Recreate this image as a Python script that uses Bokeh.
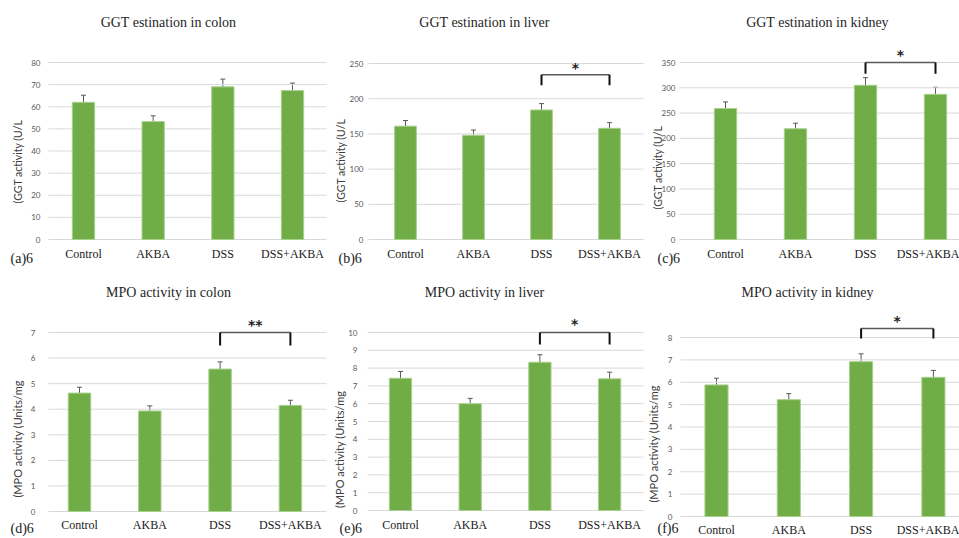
import math
from bokeh.plotting import figure
from bokeh.models import Range1d, FixedTicker, Label, Whisker, TeeHead, ColumnDataSource
from bokeh.layouts import row, column
from bokeh.embed import file_html
from bokeh.resources import INLINE
from bokeh.core.properties import value

# ---------------- data ----------------
categories = ["Control", "AKBA", "DSS", "DSS+AKBA"]

ggt_colon = [62.0, 53.3, 69.0, 67.3]
ggt_colon_err = [3.2, 2.6, 3.5, 3.4]
ggt_liver = [161, 148, 184, 158]
ggt_liver_err = [8, 7.5, 9, 8]
ggt_kidney = [259, 219, 305, 287]
ggt_kidney_err = [13, 11, 15, 14]
mpo_colon = [4.63, 3.93, 5.57, 4.15]
mpo_colon_err = [0.23, 0.20, 0.28, 0.20]
mpo_liver = [7.43, 6.0, 8.33, 7.4]
mpo_liver_err = [0.38, 0.30, 0.42, 0.37]
mpo_kidney = [5.88, 5.22, 6.92, 6.22]
mpo_kidney_err = [0.30, 0.27, 0.35, 0.31]

ticks_ggt_colon = [0, 10, 20, 30, 40, 50, 60, 70, 80]
ticks_ggt_liver = [0, 50, 100, 150, 200, 250]
ticks_ggt_kidney = [0, 50, 100, 150, 200, 250, 300, 350]
ticks_mpo_colon = [0, 1, 2, 3, 4, 5, 6, 7]
ticks_mpo_liver = [0, 1, 2, 3, 4, 5, 6, 7, 8, 9, 10]
ticks_mpo_kidney = [0, 1, 2, 3, 4, 5, 6, 7, 8]

titles = ["GGT estination in colon", "GGT estination in liver", "GGT estination in kidney",
          "MPO activity in colon", "MPO activity in liver", "MPO activity in kidney"]
ylabels = ["(GGT activity (U/L", "(GGT activity (U/L", "(GGT activity (U/L",
           "(MPO  activity (Units/mg", "(MPO  activity (Units/mg", "(MPO  activity (Units/mg"]
tags = ["(a)6", "(b)6", "(c)6", "(d)6", "(e)6", "(f)6"]

# significance brackets: (group from, group to, bracket top, leg bottom, stars, star level)
brackets = [
    None,
    (2, 3, 234, 219, "*", 244),
    (2, 3, 350, 328, "*", 364),
    (2, 3, 7.0, 6.49, "**", 7.3),
    (2, 3, 10.0, 9.33, "*", 10.45),
    (2, 3, 8.4, 7.95, "*", 8.75),
]

BAR = "#70AD47"
BAR_EDGE = "#A9D18E"
GRID = "#D9D9D9"
SERIF = "Liberation Serif"
SANS = "Lato"


def canvas_label(text, x, y, size, font, align="center", color="#262626", angle=0.0):
    kw = dict(text=text, text_align=align, text_baseline="middle", angle=angle,
              text_font=font, text_font_size=size, text_color=color)
    try:
        return Label(x=x, y=y, x_units="canvas", y_units="canvas", **kw)
    except Exception:
        return Label(x=x, y=y, x_units="screen", y_units="screen", **kw)


def panel(vals, errs, ticks, title, ylabel, tag, br, L):
    w, h = L["w"], L["h"]
    c0, s, y0, k = L["c0"], L["s"], L["y0"], L["k"]
    # layout geometry (pixels -> axis units), frame = whole canvas
    px2x = lambda px: (px - c0) / s
    xs, xe = px2x(0), px2x(w)
    ys, ye = (y0 - h) * k, y0 * k
    gx0, gx1 = px2x(L["gx"][0]), px2x(L["gx"][1])

    p = figure(width=w, height=h, output_backend="svg", toolbar_location=None,
               x_range=Range1d(xs, xe), y_range=Range1d(ys, ye),
               min_border_left=0, min_border_right=0,
               min_border_top=0, min_border_bottom=0,
               background_fill_color="white", border_fill_color="white")
    p.outline_line_color = None
    p.xgrid.visible = False
    p.ygrid.visible = False

    # horizontal gridlines at the tick values
    p.segment(x0=[gx0] * len(ticks), x1=[gx1] * len(ticks), y0=ticks, y1=ticks,
              line_color=GRID, line_width=1)

    idx = list(range(len(categories)))
    src = ColumnDataSource(dict(x=idx, top=vals,
                                up=[v + e for v, e in zip(vals, errs)],
                                lo=[v - e for v, e in zip(vals, errs)]))
    p.vbar(x="x", top="top", bottom=0, width=0.32, source=src, fill_color=BAR,
           line_color=BAR_EDGE, line_width=1)
    wh = Whisker(base="x", upper="up", lower="lo", source=src,
                 line_color="#595959", line_width=1,
                 upper_head=TeeHead(size=5, line_color="#595959", line_width=1),
                 lower_head=TeeHead(size=5, line_color="#595959", line_width=1))
    p.add_layout(wh)

    if br is not None:
        i1, i2, top, leg, stars, sy = br
        p.segment(x0=[i1], y0=[top], x1=[i2], y1=[top], line_color="#595959", line_width=1.5)
        p.segment(x0=[i1, i2], y0=[leg, leg], x1=[i1, i2], y1=[top, top],
                  line_color="#111111", line_width=2)
        p.text(x=[(i1 + i2) / 2], y=[sy], text=[stars], text_align="center",
               text_baseline="middle", text_font=value("DejaVu Sans"),
               text_font_style="bold", text_font_size="14px", text_color="#222222")

    # x axis (categories) fixed on the zero line
    xa = p.xaxis[0]
    xa.fixed_location = 0
    xa.ticker = FixedTicker(ticks=idx)
    xa.major_label_overrides = {i: c for i, c in zip(idx, categories)}
    xa.major_label_text_font = SERIF
    xa.major_label_text_font_size = "12px"
    xa.major_label_text_color = "#1a1a1a"
    xa.major_label_standoff = L["xstd"]
    xa.axis_line_color = None
    xa.major_tick_line_color = None
    xa.major_tick_out = 0
    xa.major_tick_in = 0
    xa.minor_tick_line_color = None

    # y axis fixed at the left end of the gridlines
    ya = p.yaxis[0]
    ya.fixed_location = gx0
    ya.ticker = FixedTicker(ticks=ticks)
    ya.major_label_text_font = SANS
    ya.major_label_text_font_size = "8px"
    ya.major_label_text_color = "#595959"
    ya.major_label_standoff = L["ystd"]
    ya.axis_line_color = None
    ya.major_tick_line_color = None
    ya.major_tick_out = 0
    ya.major_tick_in = 0
    ya.minor_tick_line_color = None

    # texts
    p.add_layout(canvas_label(title, L["title"][0], L["title"][1], "14px", SERIF))
    p.add_layout(canvas_label(tag, L["tag"][0], L["tag"][1], "14px", SERIF,
                              align="left", color="#1a1a1a"))
    p.add_layout(canvas_label(ylabel, L["ylab"][0], L["ylab"][1], L["ylsize"], SANS,
                              color="#404040", angle=math.pi / 2))
    return p


layouts = [
    dict(w=330, h=268, c0=83, s=69.67, y0=239, k=80 / 177, gx=(48, 326), ystd=8, xstd=7,
         title=(168, 22), tag=(10, 258), ylab=(17, 161), ylsize="10.5px"),
    dict(w=316, h=268, c0=75, s=68.0, y0=239, k=250 / 176, gx=(38, 313), ystd=5, xstd=7,
         title=(154, 22), tag=(8, 258), ylab=(10, 160), ylsize="10.5px"),
    dict(w=313, h=268, c0=79, s=70.0, y0=239, k=350 / 177, gx=(33, 313), ystd=4, xstd=7,
         title=(171, 22), tag=(11, 258), ylab=(11, 167), ylsize="10.5px"),
    dict(w=330, h=270, c0=79, s=70.3, y0=243, k=7 / 179, gx=(48, 326), ystd=13, xstd=6,
         title=(168, 24), tag=(10, 260), ylab=(17, 169), ylsize="11px"),
    dict(w=316, h=270, c0=70, s=69.7, y0=242, k=10 / 178, gx=(37, 313), ystd=10, xstd=7,
         title=(154, 24), tag=(9, 260), ylab=(9, 179.5), ylsize="11px"),
    dict(w=313, h=270, c0=70, s=72.3, y0=248, k=8 / 179, gx=(34, 313), ystd=8, xstd=6,
         title=(161, 24), tag=(11, 260), ylab=(7, 174), ylsize="11px"),
]

series = [(ggt_colon, ggt_colon_err, ticks_ggt_colon),
          (ggt_liver, ggt_liver_err, ticks_ggt_liver),
          (ggt_kidney, ggt_kidney_err, ticks_ggt_kidney),
          (mpo_colon, mpo_colon_err, ticks_mpo_colon),
          (mpo_liver, mpo_liver_err, ticks_mpo_liver),
          (mpo_kidney, mpo_kidney_err, ticks_mpo_kidney)]

plots = [panel(s[0], s[1], s[2], titles[n], ylabels[n], tags[n], brackets[n], layouts[n])
         for n, s in enumerate(series)]

layout = column(row(plots[0], plots[1], plots[2]), row(plots[3], plots[4], plots[5]))

open("out.html", "w").write(file_html(layout, INLINE))
